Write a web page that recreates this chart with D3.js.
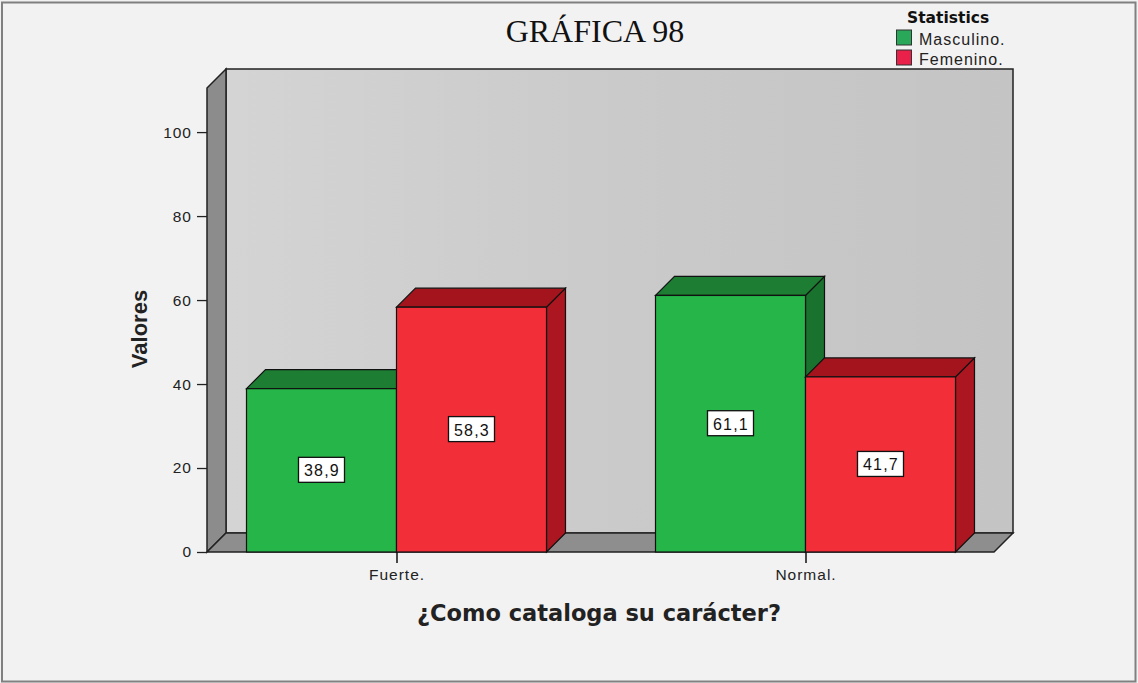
<!DOCTYPE html>
<html>
<head>
<meta charset="utf-8">
<script src="https://cdn.jsdelivr.net/npm/d3@7"></script>
<style>
  html, body { margin: 0; padding: 0; background: #f1f1f1; }
  svg { display: block; }
</style>
</head>
<body>
<svg id="chart" width="1138" height="683"></svg>
<script>
// Data
const categories = ["Fuerte.", "Normal."];
const seriesNames = ["Masculino.", "Femenino."];
const masculino = [38.9, 61.1];
const femenino = [58.3, 41.7];
const yTicks = [0, 20, 40, 60, 80, 100];

const seriesValues = [masculino, femenino];
const faceColors = {
  "Masculino.": { front: "#25b548", top: "#1c7d33", side: "#1a722f" },
  "Femenino.":  { front: "#f22f38", top: "#a3141d", side: "#ab1620" }
};
const legendColors = ["#2aa85a", "#e8204a"];

const SANS = "Liberation Sans, Arial, sans-serif";
const svg = d3.select("#chart");
const W = 1138, H = 683;

// Outer frame
svg.append("rect").attr("x", 2).attr("y", 2.5).attr("width", W - 4.5).attr("height", H - 4)
  .attr("fill", "#f2f2f2").attr("stroke", "#808080").attr("stroke-width", 2);

// Plot geometry (front plane + depth offset)
const left = 207, right = 994, depth = 19;
const y = d3.scaleLinear().domain([0, 110.5]).range([552, 88]);
const x0 = d3.scaleBand().domain(categories).range([192, 1010]);
const x1 = d3.scaleBand().domain(seriesNames).range([-150, 150]);

const y0 = y(0), yTop = y(110.5);

// Back wall gradient
const defs = svg.append("defs");
const gWall = defs.append("linearGradient").attr("id", "wall").attr("x1", 0).attr("x2", 1).attr("y1", 0).attr("y2", 0);
gWall.append("stop").attr("offset", "0%").attr("stop-color", "#d4d4d4");
gWall.append("stop").attr("offset", "50%").attr("stop-color", "#cacaca");
gWall.append("stop").attr("offset", "100%").attr("stop-color", "#c4c4c4");

const line = d3.line();
const frame = svg.append("g");

// Legend (drawn before the walls; the wall edge passes over it)
const legend = svg.append("g").attr("transform", "translate(896,0)");
legend.append("text").attr("x", 11).attr("y", 23).attr("font-family", "DejaVu Sans, sans-serif")
  .attr("font-weight", "bold").attr("font-size", 15.5).attr("fill", "#111").text("Statistics");
seriesNames.forEach((s, i) => {
  const ly = 30 + i * 20;
  legend.append("rect").attr("x", 0.5).attr("y", ly).attr("width", 15).attr("height", 15)
    .attr("fill", legendColors[i]).attr("stroke", "#333").attr("stroke-width", 1);
  legend.append("text").attr("x", 23).attr("y", ly + 15).attr("font-family", SANS)
    .attr("font-size", 16).attr("letter-spacing", 1).attr("fill", "#222").text(s);
});

// Back wall
frame.append("rect")
  .attr("x", left + depth).attr("y", yTop - depth)
  .attr("width", right - left).attr("height", y0 - yTop)
  .attr("fill", "url(#wall)").attr("stroke", "#222").attr("stroke-width", 1.5);

// Left wall
frame.append("path")
  .attr("d", line([[left, yTop], [left + depth, yTop - depth], [left + depth, y0 - depth], [left, y0]]) + "Z")
  .attr("fill", "#8c8c8c").attr("stroke", "#222").attr("stroke-width", 1.5);

// Floor
frame.append("path")
  .attr("d", line([[left, y0], [left + depth, y0 - depth], [right + depth, y0 - depth], [right, y0]]) + "Z")
  .attr("fill", "#8e8e8e").attr("stroke", "#222").attr("stroke-width", 1.5);

// Bars (3D boxes)
const bars = svg.append("g");
categories.forEach((cat, ci) => {
  seriesNames.forEach((s, si) => {
    const v = seriesValues[si][ci];
    const c = faceColors[s];
    const bx = x0(cat) + x0.bandwidth() / 2 + x1(s);
    const bw = x1.bandwidth();
    const by = y(v);
    const g = bars.append("g");
    g.append("path")
      .attr("d", line([[bx + bw, by], [bx + bw + depth, by - depth], [bx + bw + depth, y0 - depth], [bx + bw, y0]]) + "Z")
      .attr("fill", c.side).attr("stroke", "#111").attr("stroke-width", 1.2);
    g.append("path")
      .attr("d", line([[bx, by], [bx + depth, by - depth], [bx + bw + depth, by - depth], [bx + bw, by]]) + "Z")
      .attr("fill", c.top).attr("stroke", "#111").attr("stroke-width", 1.2);
    g.append("rect").attr("x", bx).attr("y", by).attr("width", bw).attr("height", y0 - by)
      .attr("fill", c.front).attr("stroke", "#111").attr("stroke-width", 1.2);
  });
});

// Value labels
const labels = svg.append("g");
categories.forEach((cat, ci) => {
  seriesNames.forEach((s, si) => {
    const v = seriesValues[si][ci];
    const cx = x0(cat) + x0.bandwidth() / 2 + x1(s) + x1.bandwidth() / 2;
    const cy = y(v / 2);
    const txt = v.toFixed(1).replace(".", ",");
    labels.append("rect").attr("x", cx - 23).attr("y", cy - 13).attr("width", 46).attr("height", 25)
      .attr("fill", "#fff").attr("stroke", "#111").attr("stroke-width", 1.3);
    labels.append("text").attr("x", cx + 0.5).attr("y", cy + 6).attr("text-anchor", "middle")
      .attr("font-family", SANS).attr("font-size", 16).attr("letter-spacing", 1.2).attr("fill", "#111")
      .text(txt);
  });
});

// Y axis
const yAxis = d3.axisLeft(y).tickValues(yTicks).tickSize(10).tickPadding(5).tickFormat(d3.format("d"));
const gy = svg.append("g").attr("transform", `translate(${left},0)`).call(yAxis);
gy.select(".domain").remove();
gy.selectAll(".tick line").attr("stroke", "#222").attr("stroke-width", 1.3);
gy.selectAll(".tick text").attr("font-family", SANS).attr("font-size", 15.5).attr("letter-spacing", 1).attr("fill", "#222");

// X axis
const xAxis = d3.axisBottom(d3.scalePoint().domain(categories).range([x0("Fuerte.") + x0.bandwidth() / 2, x0("Normal.") + x0.bandwidth() / 2]))
  .tickSize(11).tickPadding(6);
const gx = svg.append("g").attr("transform", `translate(0,${y0})`).call(xAxis);
gx.select(".domain").remove();
gx.selectAll(".tick line").attr("stroke", "#111").attr("stroke-width", 1.5);
gx.selectAll(".tick text").attr("font-family", SANS).attr("font-size", 15.5).attr("letter-spacing", 1).attr("fill", "#222");

// Axis titles
svg.append("text").attr("transform", `translate(147,${329}) rotate(-90)`).attr("text-anchor", "middle")
  .attr("font-family", SANS).attr("font-weight", "bold").attr("font-size", 22).attr("fill", "#222")
  .text("Valores");
svg.append("text").attr("x", 599).attr("y", 621).attr("text-anchor", "middle")
  .attr("font-family", "DejaVu Sans, sans-serif").attr("font-weight", "bold").attr("font-size", 22.5).attr("fill", "#222")
  .text("¿Como cataloga su carácter?");

// Title
svg.append("text").attr("x", 595).attr("y", 42).attr("text-anchor", "middle")
  .attr("font-family", "Liberation Serif, Times New Roman, serif").attr("font-size", 32).attr("fill", "#111")
  .text("GRÁFICA 98");
</script>
</body>
</html>
